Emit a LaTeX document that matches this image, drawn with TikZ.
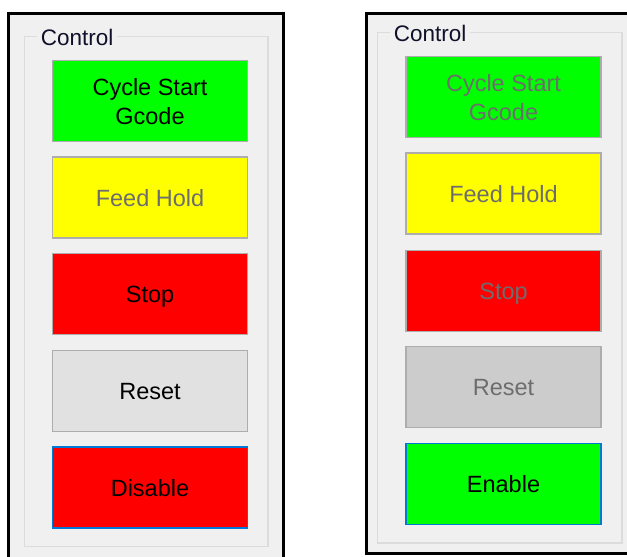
\documentclass[tikz,border=0pt]{standalone}
\usepackage{fontspec}
\setmainfont{Liberation Sans}
\definecolor{panel}{HTML}{F0F0F0}
\definecolor{grpline}{HTML}{DCDCDC}
\definecolor{btnline}{HTML}{ADADAD}
\definecolor{bgreen}{HTML}{00FF00}
\definecolor{byellow}{HTML}{FFFF00}
\definecolor{bred}{HTML}{FF0000}
\definecolor{bgrey}{HTML}{E1E1E1}
\definecolor{bgreyoff}{HTML}{CCCCCC}
\definecolor{focusblue}{HTML}{0078D7}
\definecolor{offtext}{HTML}{6D6D6D}
\definecolor{grptext}{HTML}{10102A}
\tikzset{
  btn/.style={draw=btnline, line width=1.2pt, minimum width=195pt, minimum height=81pt, inner sep=0pt},
  focusbtn/.style={btn, draw=focusblue, line width=1.5pt},
  lbl/.style={anchor=base, inner sep=0pt, font=\fontsize{23.5}{28}\selectfont},
  ontxt/.style={lbl, text=black},
  offtxt/.style={lbl, text=offtext},
  grptitle/.style={anchor=base west, inner sep=0pt, fill=panel, font=\fontsize{22.5}{27}\selectfont, text=grptext},
  winframe/.style={draw=black, line width=3pt},
  grpbox/.style={draw=grpline, line width=1.2pt}
}
\begin{document}
\begin{tikzpicture}[x=1pt,y=-1pt]
\useasboundingbox (0,0) rectangle (627,557);
\clip (0,0) rectangle (627,557);
\fill[white] (0,0) rectangle (627,557);
% left window
\fill[panel] (8,13) rectangle (283.5,565);
\draw[winframe] (8,565) -- (8,13) -- (283.5,13) -- (283.5,565);
\draw[grpbox] (24.5,36.5) rectangle (268,546.5);
\node[grptitle] (tl) at (37,45) {\,Control\,};
\node[btn, fill=bgreen] (l1) at (150,101) {};
\node[btn, fill=byellow] (l2) at (150,197.5) {};
\node[btn, fill=bred] (l3) at (150,294) {};
\node[btn, fill=bgrey] (l4) at (150,391) {};
\node[focusbtn, fill=bred] (l5) at (150,487.5) {};
\node[ontxt] (l1a) at (150,95) {Cycle Start};
\node[ontxt] (l1b) at (150,124) {Gcode};
\node[offtxt] (l2a) at (150,206) {Feed Hold};
\node[ontxt] (l3a) at (150,302.5) {Stop};
\node[ontxt] (l4a) at (150,399.5) {Reset};
\node[ontxt] (l5a) at (150,496) {Disable};
% right window
\fill[panel] (366.5,13) rectangle (640,553.5);
\draw[winframe] (640,553.5) -- (366.5,553.5) -- (366.5,13) -- (640,13);
\draw[grpbox] (377.5,32.5) rectangle (622,543);
\node[grptitle] (tr) at (390,41) {\,Control\,};
\node[btn, fill=bgreen] (r1) at (503.5,97) {};
\node[btn, fill=byellow] (r2) at (503.5,193.5) {};
\node[btn, fill=bred] (r3) at (503.5,291) {};
\node[btn, fill=bgreyoff, draw=bgreyoff!85!black] (r4) at (503.5,387) {};
\node[focusbtn, fill=bgreen] (r5) at (503.5,484) {};
\node[offtxt] (r1a) at (503.5,91) {Cycle Start};
\node[offtxt] (r1b) at (503.5,120) {Gcode};
\node[offtxt] (r2a) at (503.5,202) {Feed Hold};
\node[offtxt] (r3a) at (503.5,299.5) {Stop};
\node[offtxt] (r4a) at (503.5,395.5) {Reset};
\node[ontxt] (r5a) at (503.5,492.5) {Enable};
\end{tikzpicture}
\end{document}
